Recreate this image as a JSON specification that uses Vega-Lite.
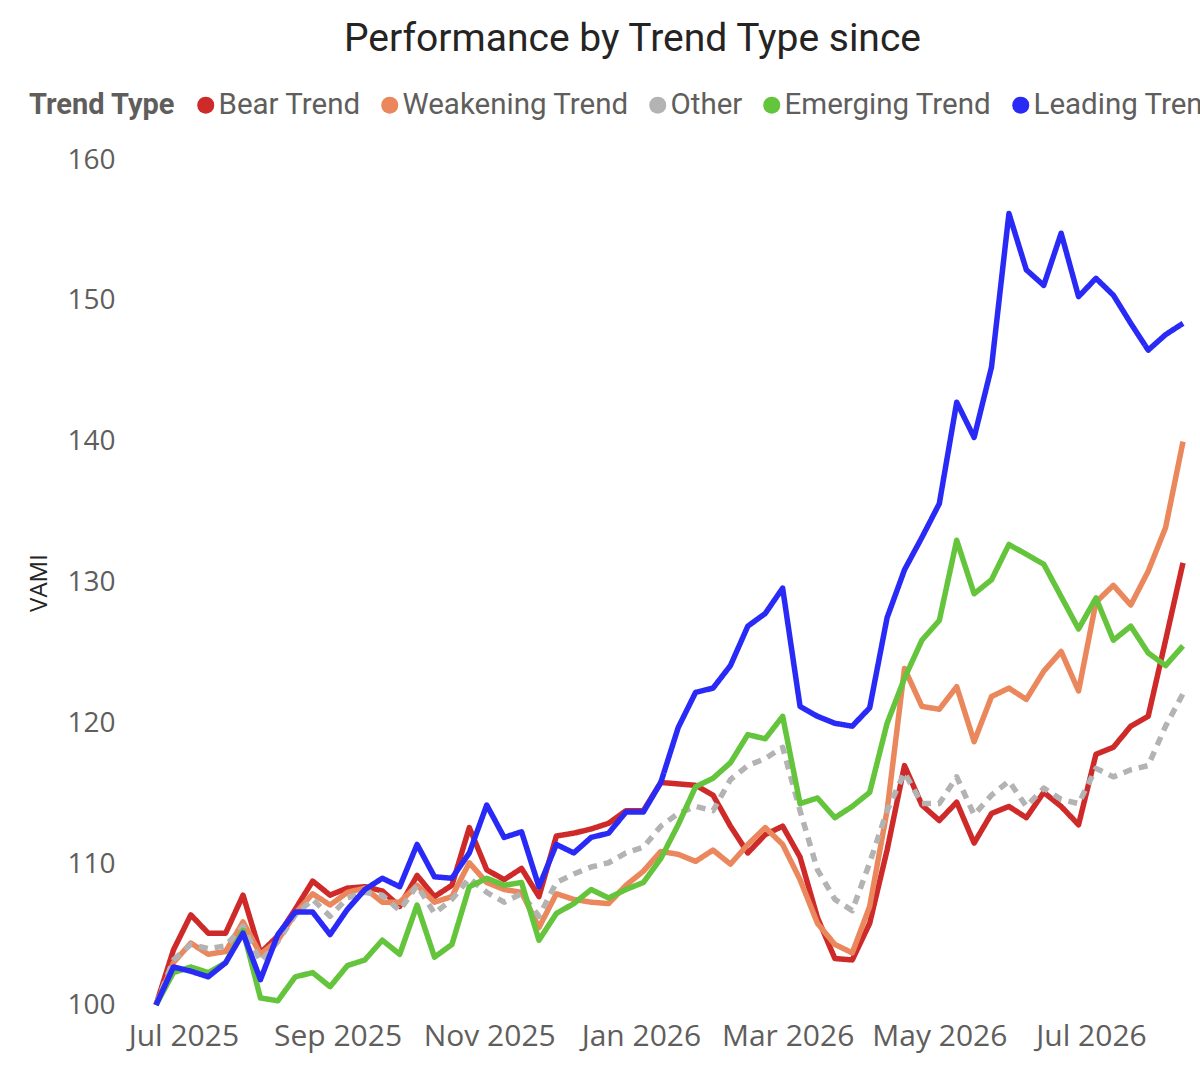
{
  "$schema": "https://vega.github.io/schema/vega-lite/v6.json",
  "description": "Performance (VAMI) by trend type, weekly",
  "width": 1027,
  "height": 845,
  "autosize": {"type": "none"},
  "padding": {"left": 156, "top": 160, "right": 17, "bottom": 86},
  "background": "white",
  "title": {
    "text": "Performance by Trend Type since",
    "font": "Roboto",
    "fontSize": 39,
    "fontWeight": "normal",
    "color": "#252423",
    "anchor": "middle",
    "dx": -37,
    "offset": 31
  },
  "config": {
    "view": {"stroke": null}
  },
  "data": {
    "values": [
      {"t": "Bear Trend", "d": "2025/06/20", "v": 100},
      {"t": "Bear Trend", "d": "2025/06/27", "v": 103.9},
      {"t": "Bear Trend", "d": "2025/07/04", "v": 106.4},
      {"t": "Bear Trend", "d": "2025/07/11", "v": 105.1},
      {"t": "Bear Trend", "d": "2025/07/18", "v": 105.1},
      {"t": "Bear Trend", "d": "2025/07/25", "v": 107.8},
      {"t": "Bear Trend", "d": "2025/08/01", "v": 103.7},
      {"t": "Bear Trend", "d": "2025/08/08", "v": 104.9},
      {"t": "Bear Trend", "d": "2025/08/15", "v": 106.8},
      {"t": "Bear Trend", "d": "2025/08/22", "v": 108.8},
      {"t": "Bear Trend", "d": "2025/08/29", "v": 107.8},
      {"t": "Bear Trend", "d": "2025/09/05", "v": 108.3},
      {"t": "Bear Trend", "d": "2025/09/12", "v": 108.4},
      {"t": "Bear Trend", "d": "2025/09/19", "v": 108.1},
      {"t": "Bear Trend", "d": "2025/09/26", "v": 107.0},
      {"t": "Bear Trend", "d": "2025/10/03", "v": 109.2},
      {"t": "Bear Trend", "d": "2025/10/10", "v": 107.7},
      {"t": "Bear Trend", "d": "2025/10/17", "v": 108.5},
      {"t": "Bear Trend", "d": "2025/10/24", "v": 112.6},
      {"t": "Bear Trend", "d": "2025/10/31", "v": 109.6},
      {"t": "Bear Trend", "d": "2025/11/07", "v": 108.9},
      {"t": "Bear Trend", "d": "2025/11/14", "v": 109.7},
      {"t": "Bear Trend", "d": "2025/11/21", "v": 107.7},
      {"t": "Bear Trend", "d": "2025/11/28", "v": 112.0},
      {"t": "Bear Trend", "d": "2025/12/05", "v": 112.2},
      {"t": "Bear Trend", "d": "2025/12/12", "v": 112.5},
      {"t": "Bear Trend", "d": "2025/12/19", "v": 112.9},
      {"t": "Bear Trend", "d": "2025/12/26", "v": 113.8},
      {"t": "Bear Trend", "d": "2026/01/02", "v": 113.8},
      {"t": "Bear Trend", "d": "2026/01/09", "v": 115.8},
      {"t": "Bear Trend", "d": "2026/01/16", "v": 115.7},
      {"t": "Bear Trend", "d": "2026/01/23", "v": 115.6},
      {"t": "Bear Trend", "d": "2026/01/30", "v": 114.9},
      {"t": "Bear Trend", "d": "2026/02/06", "v": 112.7},
      {"t": "Bear Trend", "d": "2026/02/13", "v": 110.8},
      {"t": "Bear Trend", "d": "2026/02/20", "v": 112.1},
      {"t": "Bear Trend", "d": "2026/02/27", "v": 112.7},
      {"t": "Bear Trend", "d": "2026/03/06", "v": 110.5},
      {"t": "Bear Trend", "d": "2026/03/13", "v": 106.2},
      {"t": "Bear Trend", "d": "2026/03/20", "v": 103.3},
      {"t": "Bear Trend", "d": "2026/03/27", "v": 103.2},
      {"t": "Bear Trend", "d": "2026/04/03", "v": 105.8},
      {"t": "Bear Trend", "d": "2026/04/10", "v": 111.0},
      {"t": "Bear Trend", "d": "2026/04/17", "v": 117.0},
      {"t": "Bear Trend", "d": "2026/04/24", "v": 114.2},
      {"t": "Bear Trend", "d": "2026/05/01", "v": 113.1},
      {"t": "Bear Trend", "d": "2026/05/08", "v": 114.4},
      {"t": "Bear Trend", "d": "2026/05/15", "v": 111.5},
      {"t": "Bear Trend", "d": "2026/05/22", "v": 113.6},
      {"t": "Bear Trend", "d": "2026/05/29", "v": 114.1},
      {"t": "Bear Trend", "d": "2026/06/05", "v": 113.3},
      {"t": "Bear Trend", "d": "2026/06/12", "v": 115.1},
      {"t": "Bear Trend", "d": "2026/06/19", "v": 114.1},
      {"t": "Bear Trend", "d": "2026/06/26", "v": 112.8},
      {"t": "Bear Trend", "d": "2026/07/03", "v": 117.8},
      {"t": "Bear Trend", "d": "2026/07/10", "v": 118.3},
      {"t": "Bear Trend", "d": "2026/07/17", "v": 119.8},
      {"t": "Bear Trend", "d": "2026/07/24", "v": 120.5},
      {"t": "Bear Trend", "d": "2026/07/31", "v": 125.9},
      {"t": "Bear Trend", "d": "2026/08/07", "v": 131.4},

      {"t": "Weakening Trend", "d": "2025/06/20", "v": 100},
      {"t": "Weakening Trend", "d": "2025/06/27", "v": 103.0},
      {"t": "Weakening Trend", "d": "2025/07/04", "v": 104.4},
      {"t": "Weakening Trend", "d": "2025/07/11", "v": 103.6},
      {"t": "Weakening Trend", "d": "2025/07/18", "v": 103.8},
      {"t": "Weakening Trend", "d": "2025/07/25", "v": 105.9},
      {"t": "Weakening Trend", "d": "2025/08/01", "v": 103.6},
      {"t": "Weakening Trend", "d": "2025/08/08", "v": 104.6},
      {"t": "Weakening Trend", "d": "2025/08/15", "v": 106.5},
      {"t": "Weakening Trend", "d": "2025/08/22", "v": 107.9},
      {"t": "Weakening Trend", "d": "2025/08/29", "v": 107.1},
      {"t": "Weakening Trend", "d": "2025/09/05", "v": 108.0},
      {"t": "Weakening Trend", "d": "2025/09/12", "v": 108.3},
      {"t": "Weakening Trend", "d": "2025/09/19", "v": 107.3},
      {"t": "Weakening Trend", "d": "2025/09/26", "v": 107.3},
      {"t": "Weakening Trend", "d": "2025/10/03", "v": 108.5},
      {"t": "Weakening Trend", "d": "2025/10/10", "v": 107.3},
      {"t": "Weakening Trend", "d": "2025/10/17", "v": 107.7},
      {"t": "Weakening Trend", "d": "2025/10/24", "v": 110.1},
      {"t": "Weakening Trend", "d": "2025/10/31", "v": 108.7},
      {"t": "Weakening Trend", "d": "2025/11/07", "v": 108.2},
      {"t": "Weakening Trend", "d": "2025/11/14", "v": 108.0},
      {"t": "Weakening Trend", "d": "2025/11/21", "v": 105.5},
      {"t": "Weakening Trend", "d": "2025/11/28", "v": 107.9},
      {"t": "Weakening Trend", "d": "2025/12/05", "v": 107.5},
      {"t": "Weakening Trend", "d": "2025/12/12", "v": 107.3},
      {"t": "Weakening Trend", "d": "2025/12/19", "v": 107.2},
      {"t": "Weakening Trend", "d": "2025/12/26", "v": 108.5},
      {"t": "Weakening Trend", "d": "2026/01/02", "v": 109.5},
      {"t": "Weakening Trend", "d": "2026/01/09", "v": 110.9},
      {"t": "Weakening Trend", "d": "2026/01/16", "v": 110.7},
      {"t": "Weakening Trend", "d": "2026/01/23", "v": 110.2},
      {"t": "Weakening Trend", "d": "2026/01/30", "v": 111.0},
      {"t": "Weakening Trend", "d": "2026/02/06", "v": 110.0},
      {"t": "Weakening Trend", "d": "2026/02/13", "v": 111.4},
      {"t": "Weakening Trend", "d": "2026/02/20", "v": 112.6},
      {"t": "Weakening Trend", "d": "2026/02/27", "v": 111.4},
      {"t": "Weakening Trend", "d": "2026/03/06", "v": 108.9},
      {"t": "Weakening Trend", "d": "2026/03/13", "v": 105.8},
      {"t": "Weakening Trend", "d": "2026/03/20", "v": 104.3},
      {"t": "Weakening Trend", "d": "2026/03/27", "v": 103.7},
      {"t": "Weakening Trend", "d": "2026/04/03", "v": 107.0},
      {"t": "Weakening Trend", "d": "2026/04/10", "v": 113.8},
      {"t": "Weakening Trend", "d": "2026/04/17", "v": 123.9},
      {"t": "Weakening Trend", "d": "2026/04/24", "v": 121.2},
      {"t": "Weakening Trend", "d": "2026/05/01", "v": 121.0},
      {"t": "Weakening Trend", "d": "2026/05/08", "v": 122.6},
      {"t": "Weakening Trend", "d": "2026/05/15", "v": 118.7},
      {"t": "Weakening Trend", "d": "2026/05/22", "v": 121.9},
      {"t": "Weakening Trend", "d": "2026/05/29", "v": 122.5},
      {"t": "Weakening Trend", "d": "2026/06/05", "v": 121.7},
      {"t": "Weakening Trend", "d": "2026/06/12", "v": 123.7},
      {"t": "Weakening Trend", "d": "2026/06/19", "v": 125.1},
      {"t": "Weakening Trend", "d": "2026/06/26", "v": 122.3},
      {"t": "Weakening Trend", "d": "2026/07/03", "v": 128.6},
      {"t": "Weakening Trend", "d": "2026/07/10", "v": 129.8},
      {"t": "Weakening Trend", "d": "2026/07/17", "v": 128.4},
      {"t": "Weakening Trend", "d": "2026/07/24", "v": 130.8},
      {"t": "Weakening Trend", "d": "2026/07/31", "v": 133.9},
      {"t": "Weakening Trend", "d": "2026/08/07", "v": 140.0},

      {"t": "Other", "d": "2025/06/20", "v": 100},
      {"t": "Other", "d": "2025/06/27", "v": 103.2},
      {"t": "Other", "d": "2025/07/04", "v": 104.3},
      {"t": "Other", "d": "2025/07/11", "v": 104.0},
      {"t": "Other", "d": "2025/07/18", "v": 104.2},
      {"t": "Other", "d": "2025/07/25", "v": 105.6},
      {"t": "Other", "d": "2025/08/01", "v": 103.1},
      {"t": "Other", "d": "2025/08/08", "v": 104.5},
      {"t": "Other", "d": "2025/08/15", "v": 106.4},
      {"t": "Other", "d": "2025/08/22", "v": 107.5},
      {"t": "Other", "d": "2025/08/29", "v": 106.3},
      {"t": "Other", "d": "2025/09/05", "v": 107.6},
      {"t": "Other", "d": "2025/09/12", "v": 108.0},
      {"t": "Other", "d": "2025/09/19", "v": 107.8},
      {"t": "Other", "d": "2025/09/26", "v": 106.7},
      {"t": "Other", "d": "2025/10/03", "v": 108.5},
      {"t": "Other", "d": "2025/10/10", "v": 106.5},
      {"t": "Other", "d": "2025/10/17", "v": 107.5},
      {"t": "Other", "d": "2025/10/24", "v": 109.0},
      {"t": "Other", "d": "2025/10/31", "v": 108.0},
      {"t": "Other", "d": "2025/11/07", "v": 107.3},
      {"t": "Other", "d": "2025/11/14", "v": 107.9},
      {"t": "Other", "d": "2025/11/21", "v": 106.3},
      {"t": "Other", "d": "2025/11/28", "v": 108.7},
      {"t": "Other", "d": "2025/12/05", "v": 109.3},
      {"t": "Other", "d": "2025/12/12", "v": 109.8},
      {"t": "Other", "d": "2025/12/19", "v": 110.1},
      {"t": "Other", "d": "2025/12/26", "v": 110.8},
      {"t": "Other", "d": "2026/01/02", "v": 111.2},
      {"t": "Other", "d": "2026/01/09", "v": 112.7},
      {"t": "Other", "d": "2026/01/16", "v": 113.6},
      {"t": "Other", "d": "2026/01/23", "v": 114.1},
      {"t": "Other", "d": "2026/01/30", "v": 113.8},
      {"t": "Other", "d": "2026/02/06", "v": 116.0},
      {"t": "Other", "d": "2026/02/13", "v": 117.0},
      {"t": "Other", "d": "2026/02/20", "v": 117.5},
      {"t": "Other", "d": "2026/02/27", "v": 118.3},
      {"t": "Other", "d": "2026/03/06", "v": 113.8},
      {"t": "Other", "d": "2026/03/13", "v": 109.6},
      {"t": "Other", "d": "2026/03/20", "v": 107.5},
      {"t": "Other", "d": "2026/03/27", "v": 106.7},
      {"t": "Other", "d": "2026/04/03", "v": 110.1},
      {"t": "Other", "d": "2026/04/10", "v": 113.8},
      {"t": "Other", "d": "2026/04/17", "v": 116.5},
      {"t": "Other", "d": "2026/04/24", "v": 114.3},
      {"t": "Other", "d": "2026/05/01", "v": 114.3},
      {"t": "Other", "d": "2026/05/08", "v": 116.2},
      {"t": "Other", "d": "2026/05/15", "v": 113.5},
      {"t": "Other", "d": "2026/05/22", "v": 114.9},
      {"t": "Other", "d": "2026/05/29", "v": 115.9},
      {"t": "Other", "d": "2026/06/05", "v": 114.1},
      {"t": "Other", "d": "2026/06/12", "v": 115.4},
      {"t": "Other", "d": "2026/06/19", "v": 114.6},
      {"t": "Other", "d": "2026/06/26", "v": 114.3},
      {"t": "Other", "d": "2026/07/03", "v": 116.8},
      {"t": "Other", "d": "2026/07/10", "v": 116.2},
      {"t": "Other", "d": "2026/07/17", "v": 116.7},
      {"t": "Other", "d": "2026/07/24", "v": 117.0},
      {"t": "Other", "d": "2026/07/31", "v": 119.8},
      {"t": "Other", "d": "2026/08/07", "v": 122.1},

      {"t": "Emerging Trend", "d": "2025/06/20", "v": 100},
      {"t": "Emerging Trend", "d": "2025/06/27", "v": 102.3},
      {"t": "Emerging Trend", "d": "2025/07/04", "v": 102.7},
      {"t": "Emerging Trend", "d": "2025/07/11", "v": 102.3},
      {"t": "Emerging Trend", "d": "2025/07/18", "v": 103.0},
      {"t": "Emerging Trend", "d": "2025/07/25", "v": 105.3},
      {"t": "Emerging Trend", "d": "2025/08/01", "v": 100.5},
      {"t": "Emerging Trend", "d": "2025/08/08", "v": 100.3},
      {"t": "Emerging Trend", "d": "2025/08/15", "v": 102.0},
      {"t": "Emerging Trend", "d": "2025/08/22", "v": 102.3},
      {"t": "Emerging Trend", "d": "2025/08/29", "v": 101.3},
      {"t": "Emerging Trend", "d": "2025/09/05", "v": 102.8},
      {"t": "Emerging Trend", "d": "2025/09/12", "v": 103.2},
      {"t": "Emerging Trend", "d": "2025/09/19", "v": 104.6},
      {"t": "Emerging Trend", "d": "2025/09/26", "v": 103.6},
      {"t": "Emerging Trend", "d": "2025/10/03", "v": 107.1},
      {"t": "Emerging Trend", "d": "2025/10/10", "v": 103.4},
      {"t": "Emerging Trend", "d": "2025/10/17", "v": 104.3},
      {"t": "Emerging Trend", "d": "2025/10/24", "v": 108.4},
      {"t": "Emerging Trend", "d": "2025/10/31", "v": 109.0},
      {"t": "Emerging Trend", "d": "2025/11/07", "v": 108.5},
      {"t": "Emerging Trend", "d": "2025/11/14", "v": 108.7},
      {"t": "Emerging Trend", "d": "2025/11/21", "v": 104.6},
      {"t": "Emerging Trend", "d": "2025/11/28", "v": 106.5},
      {"t": "Emerging Trend", "d": "2025/12/05", "v": 107.2},
      {"t": "Emerging Trend", "d": "2025/12/12", "v": 108.2},
      {"t": "Emerging Trend", "d": "2025/12/19", "v": 107.6},
      {"t": "Emerging Trend", "d": "2025/12/26", "v": 108.2},
      {"t": "Emerging Trend", "d": "2026/01/02", "v": 108.7},
      {"t": "Emerging Trend", "d": "2026/01/09", "v": 110.4},
      {"t": "Emerging Trend", "d": "2026/01/16", "v": 112.8},
      {"t": "Emerging Trend", "d": "2026/01/23", "v": 115.5},
      {"t": "Emerging Trend", "d": "2026/01/30", "v": 116.1},
      {"t": "Emerging Trend", "d": "2026/02/06", "v": 117.2},
      {"t": "Emerging Trend", "d": "2026/02/13", "v": 119.2},
      {"t": "Emerging Trend", "d": "2026/02/20", "v": 118.9},
      {"t": "Emerging Trend", "d": "2026/02/27", "v": 120.5},
      {"t": "Emerging Trend", "d": "2026/03/06", "v": 114.3},
      {"t": "Emerging Trend", "d": "2026/03/13", "v": 114.7},
      {"t": "Emerging Trend", "d": "2026/03/20", "v": 113.3},
      {"t": "Emerging Trend", "d": "2026/03/27", "v": 114.1},
      {"t": "Emerging Trend", "d": "2026/04/03", "v": 115.1},
      {"t": "Emerging Trend", "d": "2026/04/10", "v": 120.0},
      {"t": "Emerging Trend", "d": "2026/04/17", "v": 123.2},
      {"t": "Emerging Trend", "d": "2026/04/24", "v": 125.9},
      {"t": "Emerging Trend", "d": "2026/05/01", "v": 127.3},
      {"t": "Emerging Trend", "d": "2026/05/08", "v": 133.0},
      {"t": "Emerging Trend", "d": "2026/05/15", "v": 129.2},
      {"t": "Emerging Trend", "d": "2026/05/22", "v": 130.2},
      {"t": "Emerging Trend", "d": "2026/05/29", "v": 132.7},
      {"t": "Emerging Trend", "d": "2026/06/05", "v": 132.0},
      {"t": "Emerging Trend", "d": "2026/06/12", "v": 131.3},
      {"t": "Emerging Trend", "d": "2026/06/19", "v": 129.0},
      {"t": "Emerging Trend", "d": "2026/06/26", "v": 126.7},
      {"t": "Emerging Trend", "d": "2026/07/03", "v": 128.9},
      {"t": "Emerging Trend", "d": "2026/07/10", "v": 125.9},
      {"t": "Emerging Trend", "d": "2026/07/17", "v": 126.9},
      {"t": "Emerging Trend", "d": "2026/07/24", "v": 125.0},
      {"t": "Emerging Trend", "d": "2026/07/31", "v": 124.1},
      {"t": "Emerging Trend", "d": "2026/08/07", "v": 125.5},

      {"t": "Leading Trend", "d": "2025/06/20", "v": 100},
      {"t": "Leading Trend", "d": "2025/06/27", "v": 102.7},
      {"t": "Leading Trend", "d": "2025/07/04", "v": 102.4},
      {"t": "Leading Trend", "d": "2025/07/11", "v": 102.0},
      {"t": "Leading Trend", "d": "2025/07/18", "v": 103.0},
      {"t": "Leading Trend", "d": "2025/07/25", "v": 105.1},
      {"t": "Leading Trend", "d": "2025/08/01", "v": 101.8},
      {"t": "Leading Trend", "d": "2025/08/08", "v": 105.0},
      {"t": "Leading Trend", "d": "2025/08/15", "v": 106.6},
      {"t": "Leading Trend", "d": "2025/08/22", "v": 106.6},
      {"t": "Leading Trend", "d": "2025/08/29", "v": 105.0},
      {"t": "Leading Trend", "d": "2025/09/05", "v": 106.8},
      {"t": "Leading Trend", "d": "2025/09/12", "v": 108.2},
      {"t": "Leading Trend", "d": "2025/09/19", "v": 109.0},
      {"t": "Leading Trend", "d": "2025/09/26", "v": 108.4},
      {"t": "Leading Trend", "d": "2025/10/03", "v": 111.4},
      {"t": "Leading Trend", "d": "2025/10/10", "v": 109.1},
      {"t": "Leading Trend", "d": "2025/10/17", "v": 109.0},
      {"t": "Leading Trend", "d": "2025/10/24", "v": 110.8},
      {"t": "Leading Trend", "d": "2025/10/31", "v": 114.2},
      {"t": "Leading Trend", "d": "2025/11/07", "v": 111.9},
      {"t": "Leading Trend", "d": "2025/11/14", "v": 112.3},
      {"t": "Leading Trend", "d": "2025/11/21", "v": 108.4},
      {"t": "Leading Trend", "d": "2025/11/28", "v": 111.4},
      {"t": "Leading Trend", "d": "2025/12/05", "v": 110.8},
      {"t": "Leading Trend", "d": "2025/12/12", "v": 111.9},
      {"t": "Leading Trend", "d": "2025/12/19", "v": 112.2},
      {"t": "Leading Trend", "d": "2025/12/26", "v": 113.7},
      {"t": "Leading Trend", "d": "2026/01/02", "v": 113.7},
      {"t": "Leading Trend", "d": "2026/01/09", "v": 115.8},
      {"t": "Leading Trend", "d": "2026/01/16", "v": 119.7},
      {"t": "Leading Trend", "d": "2026/01/23", "v": 122.2},
      {"t": "Leading Trend", "d": "2026/01/30", "v": 122.5},
      {"t": "Leading Trend", "d": "2026/02/06", "v": 124.1},
      {"t": "Leading Trend", "d": "2026/02/13", "v": 126.9},
      {"t": "Leading Trend", "d": "2026/02/20", "v": 127.8},
      {"t": "Leading Trend", "d": "2026/02/27", "v": 129.6},
      {"t": "Leading Trend", "d": "2026/03/06", "v": 121.2},
      {"t": "Leading Trend", "d": "2026/03/13", "v": 120.5},
      {"t": "Leading Trend", "d": "2026/03/20", "v": 120.0},
      {"t": "Leading Trend", "d": "2026/03/27", "v": 119.8},
      {"t": "Leading Trend", "d": "2026/04/03", "v": 121.1},
      {"t": "Leading Trend", "d": "2026/04/10", "v": 127.5},
      {"t": "Leading Trend", "d": "2026/04/17", "v": 130.9},
      {"t": "Leading Trend", "d": "2026/04/24", "v": 133.2},
      {"t": "Leading Trend", "d": "2026/05/01", "v": 135.6},
      {"t": "Leading Trend", "d": "2026/05/08", "v": 142.8},
      {"t": "Leading Trend", "d": "2026/05/15", "v": 140.3},
      {"t": "Leading Trend", "d": "2026/05/22", "v": 145.3},
      {"t": "Leading Trend", "d": "2026/05/29", "v": 156.2},
      {"t": "Leading Trend", "d": "2026/06/05", "v": 152.2},
      {"t": "Leading Trend", "d": "2026/06/12", "v": 151.1},
      {"t": "Leading Trend", "d": "2026/06/19", "v": 154.8},
      {"t": "Leading Trend", "d": "2026/06/26", "v": 150.3},
      {"t": "Leading Trend", "d": "2026/07/03", "v": 151.6},
      {"t": "Leading Trend", "d": "2026/07/10", "v": 150.4},
      {"t": "Leading Trend", "d": "2026/07/17", "v": 148.4},
      {"t": "Leading Trend", "d": "2026/07/24", "v": 146.5},
      {"t": "Leading Trend", "d": "2026/07/31", "v": 147.6},
      {"t": "Leading Trend", "d": "2026/08/07", "v": 148.4}
    ]
  },
  "mark": {"type": "line", "strokeWidth": 5.5, "strokeJoin": "round", "clip": false},
  "encoding": {
    "x": {
      "field": "d",
      "type": "temporal",
      "title": null,
      "axis": {
        "values": [
          {"year": 2025, "month": 7, "date": 1},
          {"year": 2025, "month": 9, "date": 1},
          {"year": 2025, "month": 11, "date": 1},
          {"year": 2026, "month": 1, "date": 1},
          {"year": 2026, "month": 3, "date": 1},
          {"year": 2026, "month": 5, "date": 1},
          {"year": 2026, "month": 7, "date": 1}
        ],
        "format": "%b %Y",
        "grid": false,
        "domain": false,
        "ticks": false,
        "tickSize": 0,
        "labelPadding": 16,
        "labelFlush": false,
        "labelOverlap": false,
        "labelFont": "Open Sans",
        "labelFontSize": 30,
        "labelColor": "#605E5C"
      }
    },
    "y": {
      "field": "v",
      "type": "quantitative",
      "title": "VAMI",
      "scale": {"domain": [100, 160], "nice": false, "zero": false},
      "axis": {
        "values": [100, 110, 120, 130, 140, 150, 160],
        "grid": false,
        "domain": false,
        "ticks": false,
        "tickSize": 0,
        "labelPadding": 41,
        "labelFont": "Open Sans",
        "labelFontSize": 28,
        "labelColor": "#605E5C",
        "titleFont": "Open Sans",
        "titleFontSize": 24,
        "titleFontWeight": "normal",
        "titleColor": "#252423",
        "titlePadding": 15
      }
    },
    "color": {
      "field": "t",
      "type": "nominal",
      "scale": {
        "domain": ["Bear Trend", "Weakening Trend", "Other", "Emerging Trend", "Leading Trend"],
        "range": ["#CF2A2A", "#EB875C", "#B3B3B3", "#64C43C", "#2A2AF7"]
      },
      "legend": {
        "title": "Trend Type",
        "orient": "none",
        "legendX": -127,
        "legendY": -70,
        "direction": "horizontal",
        "columns": 5,
        "titleOrient": "left",
        "titleFont": "Roboto",
        "titleFontSize": 29,
        "titleFontWeight": "bold",
        "titleColor": "#605E5C",
        "titlePadding": 15,
        "labelFont": "Roboto",
        "labelFontSize": 29.5,
        "labelColor": "#605E5C",
        "labelOffset": -2,
        "labelLimit": 400,
        "columnPadding": 14,
        "symbolType": "circle",
        "symbolSize": 289,
        "symbolStrokeWidth": 0,
        "encode": {
          "symbols": {
            "update": {
              "fill": {"scale": "color", "field": "value"},
              "strokeWidth": {"value": 0}
            }
          }
        }
      }
    },
    "strokeDash": {
      "field": "t",
      "type": "nominal",
      "scale": {
        "domain": ["Bear Trend", "Weakening Trend", "Other", "Emerging Trend", "Leading Trend"],
        "range": [[1, 0], [1, 0], [9, 7], [1, 0], [1, 0]]
      },
      "legend": null
    }
  }
}
